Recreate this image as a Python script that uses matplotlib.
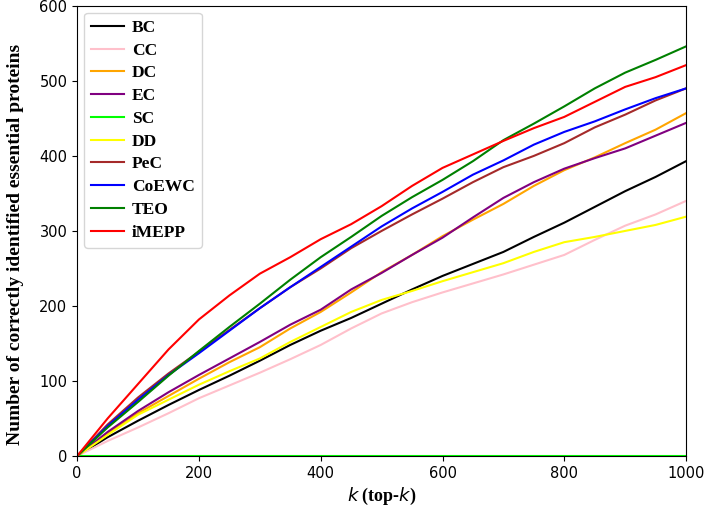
import matplotlib
matplotlib.use('Agg')
import matplotlib.pyplot as plt
import numpy as np

k = [0, 50, 100, 150, 200, 250, 300, 350, 400, 450, 500,
     550, 600, 650, 700, 750, 800, 850, 900, 950, 1000]

bc = [0, 25, 47, 68, 88, 107, 127, 148, 167, 184, 203,
      222, 240, 256, 272, 292, 311, 332, 353, 372, 393]
cc = [0, 20, 38, 57, 77, 94, 111, 129, 148, 170, 190,
      205, 218, 230, 242, 255, 268, 288, 307, 322, 340]
dc = [0, 30, 57, 80, 103, 125, 145, 170, 192, 218, 245,
      268, 293, 315, 336, 360, 381, 398, 417, 435, 457]
ec = [0, 32, 60, 85, 108, 130, 152, 175, 195, 222, 244,
      268, 291, 318, 344, 365, 383, 397, 410, 427, 444]
sc = [0] * len(k)
dd = [0, 28, 55, 75, 95, 113, 130, 152, 172, 192, 208,
      220, 233, 245, 257, 272, 285, 292, 300, 308, 319]
pec = [0, 42, 78, 110, 139, 168, 197, 225, 250, 277, 300,
       322, 343, 365, 385, 400, 417, 438, 455, 474, 490]
coewc = [0, 40, 75, 108, 137, 167, 197, 225, 252, 279, 306,
         330, 352, 375, 394, 415, 432, 446, 462, 477, 490]
teo = [0, 38, 72, 107, 140, 172, 203, 235, 265, 292, 320,
       345, 368, 393, 421, 443, 466, 490, 511, 528, 546]
imepp = [0, 50, 96, 142, 182, 214, 243, 265, 289, 309, 333,
         360, 384, 402, 420, 437, 452, 472, 492, 505, 521]

series = [('BC', bc, 'black'), ('CC', cc, 'pink'), ('DC', dc, 'orange'),
          ('EC', ec, 'purple'), ('SC', sc, 'lime'), ('DD', dd, 'yellow'),
          ('PeC', pec, 'brown'), ('CoEWC', coewc, 'blue'),
          ('TEO', teo, 'green'), ('iMEPP', imepp, 'red')]

serif = 'Liberation Serif'

fig = plt.figure(figsize=(7.08, 5.15), dpi=100)
ax = fig.add_axes([0.109, 0.1146, 0.86, 0.874])

for name, vals, col in series:
    ax.plot(k, vals, color=col, lw=1.5, label=name)

ax.set_xlim(0, 1000)
ax.set_ylim(0, 600)
ax.tick_params(labelsize=10.5)
ax.set_xlabel(r'$k$ (top-$k$)', fontfamily=serif, fontweight='bold', fontsize=13)
ax.set_ylabel('Number of correctly identified essential proteins',
              fontfamily=serif, fontweight='bold', fontsize=14)
ax.yaxis.set_label_coords(-0.088, 0.47)

ax.legend(loc='upper left', prop={'family': serif, 'weight': 'bold', 'size': 12.5},
          handlelength=1.9, handletextpad=0.45, labelspacing=0.38,
          borderaxespad=0.4)

fig.savefig('out.png', dpi=100)
